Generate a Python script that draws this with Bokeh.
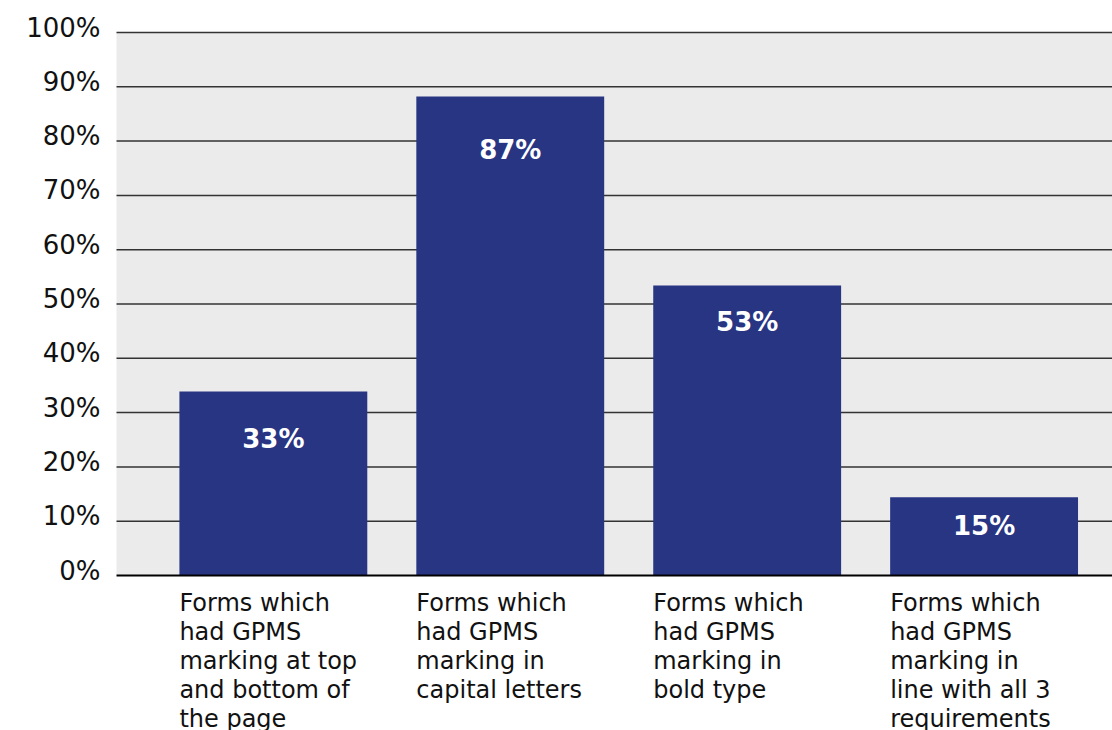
from bokeh.plotting import figure
from bokeh.models import Range1d
from bokeh.core.properties import value
from bokeh.embed import file_html
from bokeh.resources import INLINE

categories = [
    "Forms which\nhad GPMS\nmarking at top\nand bottom of\nthe page",
    "Forms which\nhad GPMS\nmarking in\ncapital letters",
    "Forms which\nhad GPMS\nmarking in\nbold type",
    "Forms which\nhad GPMS\nmarking in\nline with all 3\nrequirements",
]
bar_values = [33.9, 88.2, 53.4, 14.4]
bar_labels = ["33%", "87%", "53%", "15%"]
label_offsets = [8.8, 9.9, 6.8, 5.3]
y_ticks = list(range(0, 101, 10))
y_tick_labels = [f"{t}%" for t in y_ticks]

BAR_W = 0.793
X0, X1 = -0.662, 3.542      # extent of the plotting area (category units)
Y0, Y1 = 0, 100              # extent of the value axis

# whole canvas is the frame; ranges extended so the text areas lie inside it
XL = X0 - 116 / 236.9
YB = -155 / 5.43
YT = 100 + 32 / 5.43

p = figure(width=1112, height=730, output_backend="svg", toolbar_location=None,
           x_range=Range1d(XL, X1), y_range=Range1d(YB, YT),
           min_border_left=0, min_border_right=0, min_border_top=0, min_border_bottom=0)
p.background_fill_color = "white"
p.border_fill_color = "white"
p.outline_line_color = None
p.axis.visible = False
p.grid.visible = False

# plot-area background
p.quad(left=[X0], right=[X1], bottom=[Y0], top=[Y1], fill_color="#ebebeb", line_color=None)

# grid lines
gl = y_ticks[1:]
p.segment(x0=[X0] * len(gl), x1=[X1] * len(gl), y0=gl, y1=gl, line_color="#333333", line_width=1.5)

xs = list(range(len(bar_values)))
p.vbar(x=xs, top=bar_values, bottom=0, width=BAR_W, fill_color="#283583", line_color=None)

# baseline (0%)
p.segment(x0=[X0], x1=[X1], y0=[0], y1=[0], line_color="black", line_width=2)

ly = [v - o for v, o in zip(bar_values, label_offsets)]
p.text(x=xs, y=ly, text=bar_labels, text_color="white", text_font=value("DejaVu Sans"),
       text_font_style="bold", text_font_size="26px", text_align="center", text_baseline="middle")

# y tick labels
p.text(x=[X0] * len(y_ticks), y=y_ticks, text=y_tick_labels, x_offset=-16, y_offset=-5,
       text_align="right", text_baseline="middle", text_font=value("DejaVu Sans"),
       text_font_size="26px", text_color="#111111")

# category labels, left-aligned at bar left edges
p.text(x=[i - BAR_W / 2 for i in xs], y=[-2.4] * len(xs), text=categories,
       text_align="left", text_baseline="top", text_font=value("DejaVu Sans"),
       text_font_size="24px", text_color="#111111", text_line_height=1.04)

open("out.html", "w").write(file_html(p, INLINE))
